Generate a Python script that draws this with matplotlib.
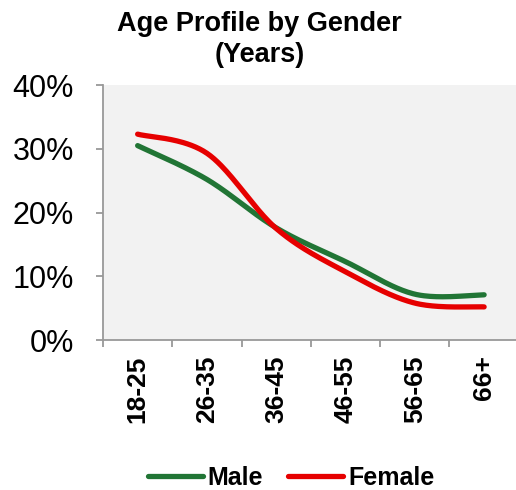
import numpy as np
import matplotlib
matplotlib.use("Agg")
import matplotlib.pyplot as plt

plt.rcParams['font.family'] = ['Liberation Sans', 'DejaVu Sans']

# DATA
age_groups = ["18-25", "26-35", "36-45", "46-55", "56-65", "66+"]
male = [30.5, 25.2, 17.6, 12.3, 7.2, 7.1]
female = [32.3, 29.3, 17.5, 10.7, 5.8, 5.2]


# smooth line like excel (cardinal spline through the points)
def smooth(xs, ys, n=40, tension=0.5):
    xs = np.asarray(xs, float)
    ys = np.asarray(ys, float)
    px = np.concatenate([[xs[0]], xs, [xs[-1]]])
    py = np.concatenate([[ys[0]], ys, [ys[-1]]])
    out_x, out_y = [], []
    for i in range(1, len(px) - 2):
        p0 = np.array([px[i - 1], py[i - 1]])
        p1 = np.array([px[i], py[i]])
        p2 = np.array([px[i + 1], py[i + 1]])
        p3 = np.array([px[i + 2], py[i + 2]])
        c1 = p1 + (p2 - p0) * tension / 3
        c2 = p2 - (p3 - p1) * tension / 3
        t = np.linspace(0, 1, n)[:, None]
        pts = ((1 - t) ** 3) * p1 + 3 * ((1 - t) ** 2) * t * c1 \
            + 3 * (1 - t) * t ** 2 * c2 + t ** 3 * p2
        out_x.extend(pts[:, 0])
        out_y.extend(pts[:, 1])
    return np.array(out_x), np.array(out_y)


x = np.arange(len(age_groups))

fig = plt.figure(figsize=(5.16, 4.9), dpi=100)
ax = fig.add_axes([0.1996, 0.306, 0.8004, 0.5204])
ax.set_facecolor("#f2f2f2")

mx, my = smooth(x, male)
fx, fy = smooth(x, female)
ax.plot(mx, my, color="#217535", lw=3.8, solid_capstyle="round", label="Male")
ax.plot(fx, fy, color="#e60000", lw=3.8, solid_capstyle="round", label="Female")

ax.set_xlim(-0.5, 5.46)
ax.set_ylim(0, 40)
ax.set_yticks([0, 10, 20, 30, 40])
ax.set_yticklabels(["0%", "10%", "20%", "30%", "40%"], fontsize=22)

ax.set_xticks(x)
ax.set_xticklabels(age_groups, rotation=90, fontsize=19, fontweight="bold")
ax.set_xticks(np.arange(-0.5, 5.0, 1.0), minor=True)
ax.tick_params(axis="x", which="major", length=0, pad=11)
ax.tick_params(axis="x", which="minor", length=5, color="#999999", width=1.3)
ax.tick_params(axis="y", length=5, color="#999999", width=1.3, pad=16)

for s in ["top", "right"]:
    ax.spines[s].set_visible(False)
for s in ["left", "bottom"]:
    ax.spines[s].set_color("#999999")
    ax.spines[s].set_linewidth(1.3)

fig.text(0.503, 0.977, "Age Profile by Gender\n(Years)", ha="center", va="top",
         fontsize=19.5, fontweight="bold", linespacing=1.22)

fig.legend(loc="center", bbox_to_anchor=(0.564, 0.025), ncol=2, frameon=False,
           prop={"size": 18, "weight": "bold"}, handlelength=2.2,
           handletextpad=0.2, columnspacing=1.0)

fig.savefig("out.png", dpi=100)
